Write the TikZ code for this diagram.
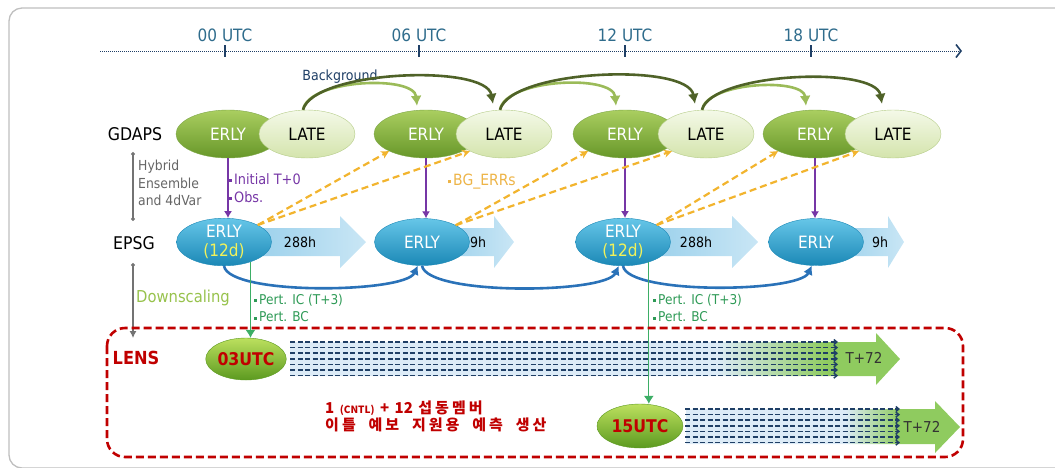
\documentclass[tikz,border=0pt]{standalone}
\usepackage{fontspec}
\setmainfont{DejaVu Sans Condensed}
\newfontfamily\kofont[LetterSpace=20,WordSpace=2]{Noto Sans CJK KR}
\newfontfamily\kolatin[WordSpace=1.6]{Noto Sans CJK KR}
\usetikzlibrary{arrows.meta,calc,shapes.geometric}
\definecolor{AxisNavy}{HTML}{1F3F66}
\definecolor{UtcTeal}{HTML}{2F6C8C}
\definecolor{LeafTop}{HTML}{AACE60}
\definecolor{LeafBot}{HTML}{679729}
\definecolor{PaleTop}{HTML}{F4F9E8}
\definecolor{PaleBot}{HTML}{D4E4AC}
\definecolor{PaleLine}{HTML}{B5CC88}
\definecolor{SkyTop}{HTML}{66C6E8}
\definecolor{SkyBot}{HTML}{1B88B6}
\definecolor{ArrowL}{HTML}{8FCBE9}
\definecolor{ArrowR}{HTML}{C9E6F5}
\definecolor{FlowBlue}{HTML}{2A72B8}
\definecolor{Plum}{HTML}{7636A6}
\definecolor{Amber}{HTML}{F2B42E}
\definecolor{AmberText}{HTML}{EDB448}
\definecolor{Moss}{HTML}{4F6228}
\definecolor{Fern}{HTML}{9BBB59}
\definecolor{PertLine}{HTML}{3DAE66}
\definecolor{PertText}{HTML}{2E9A56}
\definecolor{DarkRed}{HTML}{C00000}
\definecolor{LimeTop}{HTML}{BCE05E}
\definecolor{LimeBot}{HTML}{5C9A20}
\definecolor{LensPale}{HTML}{DCEBF7}
\definecolor{LensGreen}{HTML}{8FCB5F}
\definecolor{DownGreen}{HTML}{97C24C}
\definecolor{Lemon}{HTML}{F2F25A}
% pale body turning green towards the head
\pgfdeclarehorizontalshading{lensfade}{100bp}{color(0bp)=(LensPale); color(25bp)=(LensPale); color(60bp)=(LensPale); color(69bp)=(LensGreen); color(100bp)=(LensGreen)}
\pgfdeclarehorizontalshading{lensfadeshort}{100bp}{color(0bp)=(LensPale); color(25bp)=(LensPale); color(54bp)=(LensPale); color(64bp)=(LensGreen); color(100bp)=(LensGreen)}
\newcommand\sqb{\raisebox{0.3ex}{\rule{3pt}{3pt}}\hspace{2pt}}

\begin{document}
\begin{tikzpicture}[x=1pt,y=1pt,>=Latex,
  every node/.style={inner sep=0pt},
  utc/.style={text=UtcTeal,font=\fontsize{17}{20}\selectfont},
  rowlab/.style={font=\fontsize{17.5}{20}\selectfont},
  erly/.style={ellipse,draw=LeafBot!85,top color=LeafTop,bottom color=LeafBot,text=white,
    minimum width=104pt,minimum height=48pt,font=\fontsize{17}{20}\selectfont},
  late/.style={ellipse,draw=PaleLine,top color=PaleTop,bottom color=PaleBot,
    minimum width=96pt,minimum height=48pt,font=\fontsize{17}{20}\selectfont},
  ens/.style={ellipse,draw=SkyBot,top color=SkyTop,bottom color=SkyBot,text=white,align=center,
    minimum width=95pt,minimum height=47pt,font=\fontsize{17}{19}\selectfont},
  lensnode/.style={ellipse,draw=LimeBot,top color=LimeTop,bottom color=LimeBot,text=DarkRed,
    font=\fontsize{17.5}{20}\selectfont\bfseries},
  tint/.style={left color=ArrowL,right color=ArrowR},
  hours/.style={font=\fontsize{14}{16}\selectfont},
  obslab/.style={text=Plum,font=\fontsize{14.3}{16}\selectfont,anchor=west},
  pertlab/.style={text=PertText,font=\fontsize{13.5}{16}\selectfont,anchor=west},
  obs/.style={Plum,line width=1.1pt,-{Latex[length=7pt,width=8pt]}},
  bgerr/.style={Amber,line width=2.2pt,dash pattern=on 7pt off 4pt,-{Stealth[length=8pt,width=8pt]}},
  flow/.style={FlowBlue,line width=2.6pt,-{Latex[length=9pt,width=10pt]}},
  pert/.style={PertLine,line width=1.1pt,-{Latex[length=8pt,width=10pt]}},
  member/.style={AxisNavy,line width=1.5pt,dash pattern=on 5pt off 2.5pt,-{Straight Barb[length=3pt,width=5pt]}},
  t72/.style={text=black!80,font=\fontsize{15}{18}\selectfont},
  korean/.style={text=DarkRed,font=\kofont\bfseries\fontsize{15}{17}\selectfont,anchor=west}]
  \useasboundingbox (0,0) rectangle (1055,-467);
  \clip (0,0) rectangle (1055,-467);
  \draw[black!25,line width=1.3pt,rounded corners=13pt] (9,-8) rectangle (1080,-468);

  % time axis
  \coordinate (ax0) at (100,-51);
  \coordinate (ax1) at (962,-51);
  \draw[AxisNavy,line width=1pt,dash pattern=on 1pt off 1pt,
    -{Straight Barb[length=5pt,width=13pt,line width=1.6pt]}] (ax0) -- (ax1);
  \foreach \x/\h in {225/00,419/06,625/12,811/18}{
    \draw[AxisNavy,line width=1.3pt] (\x,-45) -- (\x,-57);
    \node[utc] (utc\h) at (\x,-35) {\h\ UTC};
  }

  % GDAPS cycle
  \node[rowlab] (gdaps) at (135,-134) {GDAPS};
  \foreach \i/\xe/\xl in {1/228/307,2/426/504,3/625/706,4/815/893}{
    \node[erly] (g\i) at (\xe,-134) {ERLY};
    \node[late] (l\i) at (\xl,-134) {LATE};
  }

  % EPSG runs
  \node[rowlab] (epsg) at (134,-243) {EPSG};
  \foreach \xa/\xh/\xt in {224/340/366,422/494/514,623/732/758,816/888/904}
    \path[tint] (\xa,-228) -- (\xh,-228) -- (\xh,-216) -- (\xt,-242) -- (\xh,-268)
      -- (\xh,-256) -- (\xa,-256) -- cycle;
  \node[ens] (e1) at (224,-242) {ERLY\\\textcolor{Lemon}{(12d)}};
  \node[ens] (e2) at (422,-242) {ERLY};
  \node[ens] (e3) at (623,-242) {ERLY\\\textcolor{Lemon}{(12d)}};
  \node[ens] (e4) at (816,-242) {ERLY};
  \node[hours] (h1) at (300,-242) {288h};
  \node[hours] (h2) at (478,-242) {9h};
  \node[hours] (h3) at (696,-242) {288h};
  \node[hours] (h4) at (880,-242) {9h};

  % background from LATE
  \node[text=AxisNavy,font=\fontsize{14}{16}\selectfont] (bg) at (340,-77) {Background};
  \foreach \a/\b/\c in {l1/g2/l2,l2/g3/l3,l3/g4/l4}{
    \draw[Fern,line width=2.6pt,-{Latex[length=10pt,width=11pt]}]
      ($(\a.north)+(-4,0)$) to[out=80,in=95,looseness=0.7] ($(\b.north)+(-9,4)$);
    \draw[Moss,line width=2.6pt,-{Latex[length=10pt,width=11pt]}]
      ($(\a.north)+(-4,0)$) to[out=75,in=100,looseness=0.55] ($(\c.north)+(-11,6)$);
  }

  % analysis to ensemble
  \foreach \i in {1,...,4}
    \draw[obs] (g\i.south) -- (g\i.south |- e\i.north);
  \node[obslab] (ini) at (229,-179) {\sqb Initial T+0};
  \node[obslab] (obsv) at (229,-197) {\sqb Obs.};

  % background errors back to GDAPS
  \foreach \e/\g/\l in {e1/g2/l2,e2/g3/l3,e3/g4/l4}{
    \draw[bgerr] (\e.north east) -- (\g.south west);
    \draw[bgerr] (\e.north east) -- (\l.south west);
  }
  \node[text=AmberText,font=\fontsize{15.5}{17}\selectfont,anchor=west] (bgerrs) at (448,-182) {\sqb BG\_ERRs};

  % ensemble cycling
  \draw[flow] (e1.south) to[out=-80,in=-115,looseness=0.4] (e2.-100);
  \draw[flow] (e2.south) to[out=-80,in=-115,looseness=0.4] (e3.-100);
  \draw[flow] (e3.south) to[out=-80,in=-115,looseness=0.4] (e4.-100);

  % side notes
  \coordinate (hy0) at (133,-152);
  \coordinate (hy1) at (133,-221);
  \draw[black!55,line width=1.1pt,{Circle[length=4pt]}-{Circle[length=4pt]}] (hy0) -- (hy1);
  \node[text=black!60,font=\fontsize{13.8}{17.5}\selectfont,align=left,anchor=west] (hyb) at (138,-183)
    {Hybrid\\Ensemble\\and 4dVar};
  \coordinate (dn0) at (133,-263);
  \coordinate (dn1) at (133,-338);
  \draw[black!55,line width=1.1pt,{Circle[length=4pt]}-{Latex[length=7pt,width=7pt]}] (dn0) -- (dn1);
  \node[text=DownGreen,font=\fontsize{16.4}{18}\selectfont,anchor=west] (down) at (136,-298) {Downscaling};

  % LENS runs
  \node[text=DarkRed,font=\fontsize{18}{20}\selectfont\bfseries] (lens) at (136,-358) {LENS};
  \node[lensnode,minimum width=80pt,minimum height=42pt] (u03) at (246,-359) {03UTC};
  \node[lensnode,minimum width=86pt,minimum height=44pt] (u15) at (640,-426) {15UTC};
  \path[shading=lensfade] (290,-342) -- (876,-342) -- (876,-333) -- (900,-359) -- (876,-385)
    -- (876,-376) -- (290,-376) -- cycle;
  \path[shading=lensfadeshort] (686,-409) -- (935,-409) -- (935,-401) -- (960,-427) -- (935,-453)
    -- (935,-444) -- (686,-444) -- cycle;
  \foreach \k [evaluate=\k as \y using -342-\k*5.6] in {0,...,6}
    \draw[member] ($(u03.east |- 0,\y)+(4,0)$) -- (838,\y);
  \foreach \k [evaluate=\k as \y using -409-\k*5.6] in {0,...,6}
    \draw[member] ($(u15.east |- 0,\y)+(2,0)$) -- (900,\y);
  \node[t72] (end03) at (864,-358) {T+72};
  \node[t72] (end15) at (922,-427) {T+72};

  % perturbations handed down
  \draw[pert] (e1.323) -- (e1.323 |- u03.north);
  \draw[pert] (e3.322) -- (e3.322 |- u15.north);
  \node[pertlab] (ic1) at (254,-300) {\sqb Pert. IC (T+3)};
  \node[pertlab] (bc1) at (254,-317) {\sqb Pert. BC};
  \node[pertlab] (ic2) at (653,-300) {\sqb Pert. IC (T+3)};
  \node[pertlab] (bc2) at (653,-317) {\sqb Pert. BC};

  \node[korean] (memb) at (325,-408)
    {{\kolatin\bfseries 1 {\fontsize{10}{12}\selectfont(CNTL)} + 12 }섭동멤버};
  \node[korean] (prod) at (325,-425) {이틀 예보 지원용 예측 생산};

  \coordinate (lb0) at (107,-328);
  \coordinate (lb1) at (963,-457);
  \draw[DarkRed,line width=2.6pt,dash pattern=on 8pt off 4pt,rounded corners=18pt] (lb0) rectangle (lb1);
\end{tikzpicture}
\end{document}
